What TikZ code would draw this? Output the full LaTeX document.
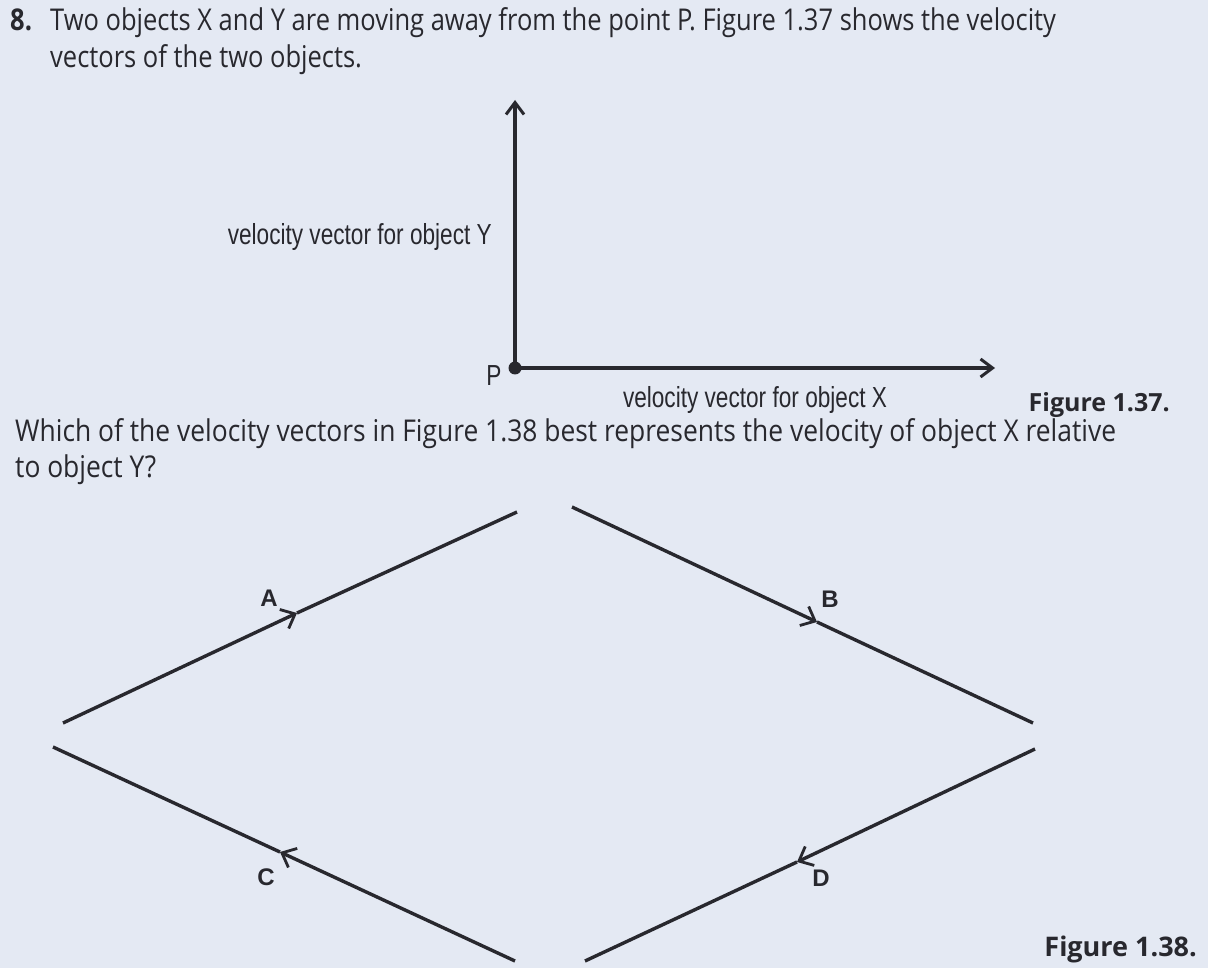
\documentclass[tikz,border=0pt]{standalone}
\usepackage{fontspec}
\setmainfont{Open Sans}
\newfontfamily\narrowfont[FakeStretch=0.85]{Open Sans}
\newfontfamily\widefont[FakeStretch=0.88]{Open Sans}
\newfontfamily\labelfont[FakeStretch=0.78]{Liberation Sans}
\newfontfamily\letterfont{Liberation Sans}
\usetikzlibrary{arrows.meta}
\definecolor{paper}{RGB}{228,233,243}
\definecolor{ink}{RGB}{40,40,46}
\tikzstyle{vector}=[line width=3.6pt, ink, -{Straight Barb[length=12pt,width=18pt,line width=3pt]}]
\tikzstyle{side}=[line width=3.4pt, ink]
\tikzstyle{half}=[side, -{Straight Barb[length=12pt,width=21pt,line width=2.8pt]}]
\tikzstyle{question}=[inner sep=0pt, anchor=base west, text=ink, font=\fontsize{30}{36}\narrowfont]
\tikzstyle{caption}=[inner sep=0pt, anchor=base east, text=ink, font=\fontsize{25}{30}\selectfont\bfseries]
\tikzstyle{vlabel}=[inner sep=0pt, text=ink, font=\fontsize{29}{34}\labelfont]
\tikzstyle{letter}=[inner sep=0pt, text=ink, font=\fontsize{24}{28}\letterfont\bfseries]

\begin{document}
\begin{tikzpicture}[x=1pt, y=-1pt]
  \fill[paper] (0,0) rectangle (1208,968);
  % question text
  \node[question, font=\fontsize{30}{36}\narrowfont\bfseries] (num) at (10,31) {8.};
  \node[question] (line1) at (50,31) {Two objects X and Y are moving away from the point P. Figure 1.37 shows the velocity};
  \node[question] (line2) at (50,68) {vectors of the two objects.};
  % figure 1.37
  \coordinate (P) at (515,368);
  \coordinate (Ytip) at (515,100);
  \coordinate (Xtip) at (995,368);
  \draw[vector] (P) -- (Ytip);
  \draw[vector] (P) -- (Xtip);
  \fill[ink] (P) circle (6.5);
  \node[vlabel] (Plabel) at (494,376) {P};
  \node[vlabel, anchor=east] (Ylabel) at (492,237) {velocity vector for object Y};
  \node[vlabel] (Xlabel) at (755,400) {velocity vector for object X};
  \node[caption] (fig1) at (1170,411) {Figure 1.37.};
  \node[question, font=\fontsize{30}{36}\widefont] (line3) at (15,441) {Which of the velocity vectors in Figure 1.38 best represents the velocity of object X relative};
  \node[question, font=\fontsize{30}{36}\widefont] (line4) at (15,477) {to object Y?};
  % figure 1.38
  \coordinate (a1) at (63,723);
  \coordinate (am) at (297,613);
  \coordinate (a2) at (517,512);
  \coordinate (b1) at (572,507);
  \coordinate (bm) at (817,622);
  \coordinate (b2) at (1033,723);
  \coordinate (c1) at (515,961);
  \coordinate (cm) at (280,852);
  \coordinate (c2) at (53,747);
  \coordinate (d1) at (1035,749);
  \coordinate (dm) at (797,862);
  \coordinate (d2) at (585,961);
  \draw[half] (a1) -- (am);
  \draw[side] (am) -- (a2);
  \draw[half] (b1) -- (bm);
  \draw[side] (bm) -- (b2);
  \draw[half] (c1) -- (cm);
  \draw[side] (cm) -- (c2);
  \draw[half] (d1) -- (dm);
  \draw[side] (dm) -- (d2);
  \node[letter] (A) at (269,598) {A};
  \node[letter] (B) at (830,599) {B};
  \node[letter] (C) at (266,877) {C};
  \node[letter] (D) at (821,878) {D};
  \node[caption, font=\fontsize{27}{32}\selectfont\bfseries] (fig2) at (1197,956) {Figure 1.38.};
\end{tikzpicture}
\end{document}
